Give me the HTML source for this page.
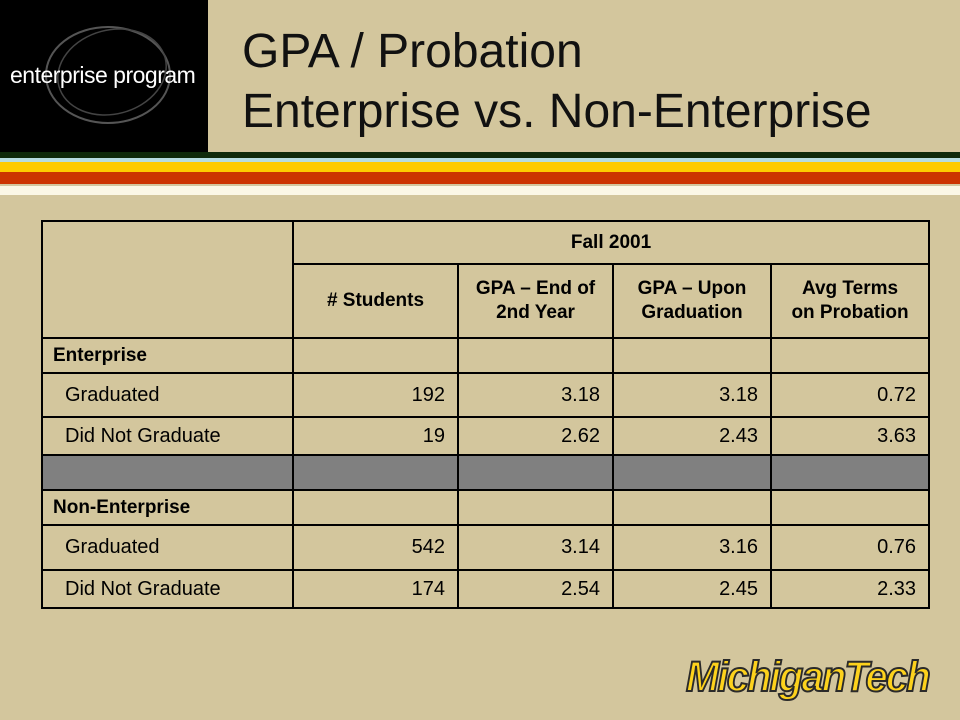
<!DOCTYPE html>
<html><head><meta charset="utf-8"><style>
body{margin:0;width:960px;height:720px;background:#d3c69d;position:relative;overflow:hidden;font-family:"Liberation Sans",sans-serif}
.abs{position:absolute}
#tbl{position:absolute;left:41px;top:220px;border-collapse:collapse;font-size:20px;color:#000;table-layout:fixed}
#tbl td{border:2px solid #000;padding:0 12px;box-sizing:border-box;white-space:nowrap}
.h{font-weight:bold;text-align:center;font-size:19px;line-height:24px}
.n{text-align:right}
.g{background:#808080}
.lbl{padding-left:22px!important}
</style></head><body>
<div class="abs" style="left:0;top:0;width:208px;height:152px;background:#000">
<svg width="208" height="152"><ellipse cx="108" cy="75" rx="62" ry="48" fill="none" stroke="#555" stroke-width="2"/><ellipse cx="112" cy="72" rx="55" ry="42" fill="none" stroke="#444" stroke-width="1.5" transform="rotate(-15 112 72)"/></svg>
<div class="abs" style="left:10px;top:62px;color:#fff;font-size:23px;white-space:nowrap;letter-spacing:-0.5px">enterprise program</div>
</div>
<div class="abs" style="left:242px;top:22px;font-size:48px;line-height:60px;color:#111;white-space:nowrap">GPA / Probation<br>Enterprise vs. Non-Enterprise</div>
<div class="abs" style="left:0;top:152px;width:960px;height:6px;background:#0f2a0a"></div>
<div class="abs" style="left:0;top:158px;width:960px;height:4px;background:#b6dce0"></div>
<div class="abs" style="left:0;top:162px;width:960px;height:10px;background:#fecb00"></div>
<div class="abs" style="left:0;top:172px;width:960px;height:12px;background:#cc3300"></div>
<div class="abs" style="left:0;top:186px;width:960px;height:9px;background:#fbf7e6"></div>
<table id="tbl" style="width:887px">
<colgroup><col style="width:251px"><col style="width:165px"><col style="width:155px"><col style="width:158px"><col style="width:158px"></colgroup>
<tr style="height:43px"><td rowspan="2"></td><td colspan="4" class="h">Fall 2001</td></tr>
<tr style="height:74px"><td class="h"># Students</td><td class="h" style="padding:0">GPA – End of<br>2nd Year</td><td class="h" style="padding:0">GPA – Upon<br>Graduation</td><td class="h" style="padding:0">Avg Terms<br>on Probation</td></tr>
<tr style="height:35px"><td style="font-weight:bold;font-size:19px;padding-left:10px">Enterprise</td><td></td><td></td><td></td><td></td></tr>
<tr style="height:44px"><td class="lbl">Graduated</td><td class="n">192</td><td class="n">3.18</td><td class="n">3.18</td><td class="n">0.72</td></tr>
<tr style="height:38px"><td class="lbl">Did Not Graduate</td><td class="n">19</td><td class="n">2.62</td><td class="n">2.43</td><td class="n">3.63</td></tr>
<tr style="height:35px"><td class="g"></td><td class="g"></td><td class="g"></td><td class="g"></td><td class="g"></td></tr>
<tr style="height:35px"><td style="font-weight:bold;font-size:19px;padding-left:10px">Non-Enterprise</td><td></td><td></td><td></td><td></td></tr>
<tr style="height:45px"><td class="lbl">Graduated</td><td class="n">542</td><td class="n">3.14</td><td class="n">3.16</td><td class="n">0.76</td></tr>
<tr style="height:38px"><td class="lbl">Did Not Graduate</td><td class="n">174</td><td class="n">2.54</td><td class="n">2.45</td><td class="n">2.33</td></tr>
</table>
<div class="abs" style="left:686px;top:650px;font-size:43px;font-weight:bold;font-style:italic;color:#fdd21c;-webkit-text-stroke:2px #2a2a2a;letter-spacing:-2px;white-space:nowrap;line-height:54px;transform:scaleX(0.93);transform-origin:left">MichiganTech</div>
</body></html>
